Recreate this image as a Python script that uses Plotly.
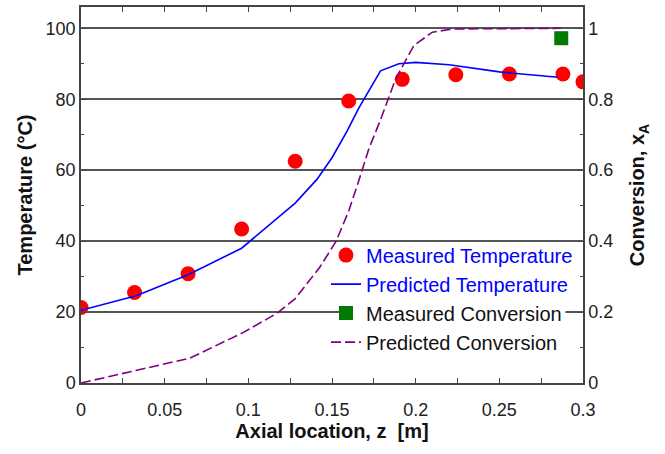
import plotly.graph_objects as go

# Measured temperature
z_meas_T = [0.0, 0.032, 0.064, 0.096, 0.128, 0.160, 0.192, 0.224, 0.256, 0.288, 0.300]
T_meas = [21.3, 25.5, 30.8, 43.4, 62.5, 79.5, 85.6, 86.9, 87.1, 87.1, 84.9]

# Predicted temperature
z_pred_T = [0.0, 0.033, 0.064, 0.096, 0.128, 0.141, 0.150, 0.159, 0.166, 0.172, 0.179, 0.190, 0.200, 0.220, 0.250, 0.285]
T_pred = [20.5, 24.6, 30.5, 38.0, 50.7, 57.4, 63.5, 71.0, 77.5, 82.5, 88.0, 90.0, 90.4, 89.7, 87.7, 86.2]

# Measured conversion
z_meas_X = [0.287]
X_meas = [0.972]

# Predicted conversion
z_pred_X = [0.0, 0.033, 0.065, 0.096, 0.117, 0.128, 0.1425, 0.1525, 0.160, 0.166, 0.172, 0.179, 0.188, 0.199, 0.210, 0.222, 0.287]
X_pred = [0.0, 0.036, 0.070, 0.140, 0.196, 0.238, 0.325, 0.400, 0.485, 0.570, 0.660, 0.742, 0.857, 0.952, 0.989, 0.998, 1.0]

FONT = "Liberation Sans, Arial, sans-serif"

fig = go.Figure()
fig.add_trace(go.Scatter(
    x=z_meas_T, y=T_meas, mode="markers",
    marker=dict(color="#ff0000", size=15, symbol="circle"),
    name="<span style='color:#0000ff'>Measured Temperature</span>"))
fig.add_trace(go.Scatter(
    x=z_pred_T, y=T_pred, mode="lines",
    line=dict(color="#0000ff", width=1.6),
    name="<span style='color:#0000ff'>Predicted Temperature</span>"))
fig.add_trace(go.Scatter(
    x=z_meas_X, y=X_meas, mode="markers", yaxis="y2",
    marker=dict(color="#007a00", size=14, symbol="square"),
    name="Measured Conversion"))
fig.add_trace(go.Scatter(
    x=z_pred_X, y=X_pred, mode="lines", yaxis="y2",
    line=dict(color="#800080", width=1.6, dash="10px,4px"),
    name="Predicted Conversion"))

axis_common = dict(
    showline=True, linecolor="#444", linewidth=1.5,
    ticks="inside", ticklen=5, tickcolor="#444", tickwidth=1,
    tickfont=dict(family=FONT, size=18, color="#222"),
    zeroline=False,
)
TITLE_FONT = dict(family=FONT, size=20, color="#111")

fig.update_layout(
    width=665, height=454,
    margin=dict(l=81, r=82, t=5, b=71),
    paper_bgcolor="white", plot_bgcolor="white",
    font=dict(family=FONT, size=18, color="#222"),
    showlegend=True,
    legend=dict(
        x=0.99, y=0.392, xanchor="right", yanchor="top",
        bgcolor="rgba(255,255,255,0)", borderwidth=0,
        font=dict(family=FONT, size=20, color="#111"),
        tracegroupgap=0, itemwidth=30,
    ),
    # white patch hiding the 20-gridline behind the legend text (as in the reference)
    shapes=[dict(type="rect", layer="between", xref="x", yref="y",
                 x0=0.155, x1=0.2895, y0=18.0, y1=22.0,
                 fillcolor="white", line=dict(width=0))],
    xaxis=dict(
        range=[0, 0.3], dtick=0.05, tick0=0, mirror="allticks",
        showgrid=False, ticklabelstandoff=10,
        minor=dict(ticks="inside", dtick=0.025, ticklen=3, tickcolor="#444"),
        title=dict(text="<b>Axial location, z  [m]</b>", font=TITLE_FONT, standoff=2),
        **axis_common),
    yaxis=dict(
        range=[0, 106], dtick=20, tick0=0, mirror=True,
        showgrid=True, gridcolor="#555", gridwidth=1.5,
        minor=dict(ticks="inside", dtick=10, ticklen=3, tickcolor="#444"),
        title=dict(text="<b>Temperature (°C)</b>", font=TITLE_FONT, standoff=8),
        **axis_common),
    yaxis2=dict(
        overlaying="y", side="right",
        range=[0, 1.06], dtick=0.2, tick0=0,
        showgrid=False,
        minor=dict(ticks="inside", dtick=0.1, ticklen=3, tickcolor="#444"),
        title=dict(text="<b>Conversion, x<sub>A</sub></b>", font=TITLE_FONT, standoff=18),
        **axis_common),
)

fig.write_html("out.html")
